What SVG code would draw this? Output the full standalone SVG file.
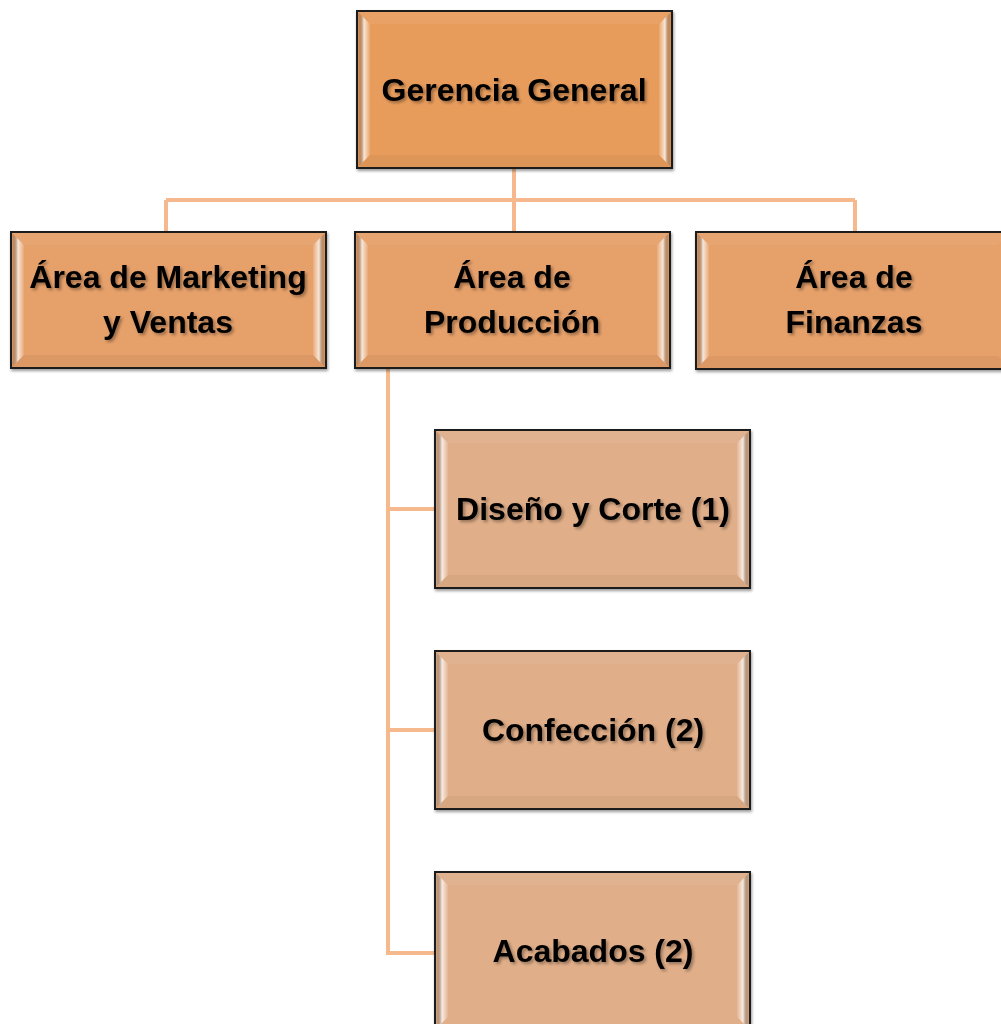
<svg xmlns="http://www.w3.org/2000/svg" width="1001" height="1024" viewBox="0 0 1001 1024">
<defs>
<linearGradient id="gl" x1="0" y1="0" x2="1" y2="0"><stop offset="0" stop-color="#000" stop-opacity="0.05"/><stop offset="0.5" stop-color="#fff" stop-opacity="0.75"/><stop offset="1" stop-color="#fff" stop-opacity="0.1"/></linearGradient>
<linearGradient id="gr" x1="1" y1="0" x2="0" y2="0"><stop offset="0" stop-color="#000" stop-opacity="0.05"/><stop offset="0.5" stop-color="#fff" stop-opacity="0.75"/><stop offset="1" stop-color="#fff" stop-opacity="0.1"/></linearGradient>
<filter id="ts" x="-10%" y="-30%" width="120%" height="160%"><feGaussianBlur in="SourceAlpha" stdDeviation="1.5"/><feOffset dx="1.5" dy="2" result="b"/><feComponentTransfer><feFuncA type="linear" slope="0.35"/></feComponentTransfer><feMerge><feMergeNode/><feMergeNode in="SourceGraphic"/></feMerge></filter>
<filter id="bs" x="-5%" y="-5%" width="110%" height="115%"><feGaussianBlur in="SourceAlpha" stdDeviation="1.5"/><feOffset dx="1" dy="2"/><feComponentTransfer><feFuncA type="linear" slope="0.4"/></feComponentTransfer><feMerge><feMergeNode/><feMergeNode in="SourceGraphic"/></feMerge></filter>
</defs>
<style>
.box{stroke:#1e1e1e;stroke-width:2}
.l1{fill:#E89C5C}
.l2{fill:#E6A06A}
.l3{fill:#E0AE88}
.bl{fill:url(#gl)}
.br{fill:url(#gr)}
.bt{fill:#fff;opacity:0.06}
.bb{fill:#000;opacity:0.04}
text{font-family:"Liberation Sans",Arial,sans-serif;font-weight:bold;font-size:32px;fill:#000;text-anchor:middle}
.c{fill:none;stroke:#F6B98E;stroke-width:4}
</style>
<rect width="1001" height="1024" fill="#fff"/>
<g id="connectors">
<path class="c" d="M514 168V200M166 200H855M166 200V232M514 200V232M855 200V232"/>
<path class="c" d="M388 368V953H435M388 509H435M388 730H435"/>
</g>
<g id="n-gerencia" filter="url(#bs)">
<rect class="box l1" x="357" y="11" width="315" height="157"/>
<polygon class="bl" points="358,12 370,24 370,155 358,167"/>
<polygon class="br" points="671,12 659,24 659,155 671,167"/>
<polygon class="bt" points="358,12 671,12 659,24 370,24"/>
<polygon class="bb" points="358,167 671,167 659,155 370,155"/>
<text x="514" y="101" filter="url(#ts)">Gerencia General</text>
</g>
<g id="n-marketing" filter="url(#bs)">
<rect class="box l2" x="11" y="232" width="315" height="136"/>
<polygon class="bl" points="12,233 24,245 24,355 12,367"/>
<polygon class="br" points="325,233 313,245 313,355 325,367"/>
<polygon class="bt" points="12,233 325,233 313,245 24,245"/>
<polygon class="bb" points="12,367 325,367 313,355 24,355"/>
<text x="168" y="288" filter="url(#ts)">Área de Marketing</text>
<text x="168" y="333" filter="url(#ts)">y Ventas</text>
</g>
<g id="n-produccion" filter="url(#bs)">
<rect class="box l2" x="355" y="232" width="315" height="136"/>
<polygon class="bl" points="356,233 368,245 368,355 356,367"/>
<polygon class="br" points="669,233 657,245 657,355 669,367"/>
<polygon class="bt" points="356,233 669,233 657,245 368,245"/>
<polygon class="bb" points="356,367 669,367 657,355 368,355"/>
<text x="512" y="288" filter="url(#ts)">Área de</text>
<text x="512" y="333" filter="url(#ts)">Producción</text>
</g>
<g id="n-finanzas" filter="url(#bs)">
<rect class="box l2" x="696" y="232" width="315" height="137"/>
<polygon class="bl" points="697,233 709,245 709,356 697,368"/>
<polygon class="bt" points="697,233 1010,233 998,245 709,245"/>
<polygon class="bb" points="697,368 1010,368 998,356 709,356"/>
<text x="854" y="288" filter="url(#ts)">Área de</text>
<text x="854" y="333" filter="url(#ts)">Finanzas</text>
</g>
<g id="n-diseno" filter="url(#bs)">
<rect class="box l3" x="435" y="430" width="315" height="158"/>
<polygon class="bl" points="436,431 448,443 448,575 436,587"/>
<polygon class="br" points="749,431 737,443 737,575 749,587"/>
<polygon class="bt" points="436,431 749,431 737,443 448,443"/>
<polygon class="bb" points="436,587 749,587 737,575 448,575"/>
<text x="593" y="520" filter="url(#ts)">Diseño y Corte (1)</text>
</g>
<g id="n-confeccion" filter="url(#bs)">
<rect class="box l3" x="435" y="651" width="315" height="158"/>
<polygon class="bl" points="436,652 448,664 448,796 436,808"/>
<polygon class="br" points="749,652 737,664 737,796 749,808"/>
<polygon class="bt" points="436,652 749,652 737,664 448,664"/>
<polygon class="bb" points="436,808 749,808 737,796 448,796"/>
<text x="593" y="741" filter="url(#ts)">Confección (2)</text>
</g>
<g id="n-acabados" filter="url(#bs)">
<rect class="box l3" x="435" y="872" width="315" height="158"/>
<polygon class="bl" points="436,873 448,885 448,1017 436,1029"/>
<polygon class="br" points="749,873 737,885 737,1017 749,1029"/>
<polygon class="bt" points="436,873 749,873 737,885 448,885"/>
<text x="593" y="962" filter="url(#ts)">Acabados (2)</text>
</g>
</svg>
